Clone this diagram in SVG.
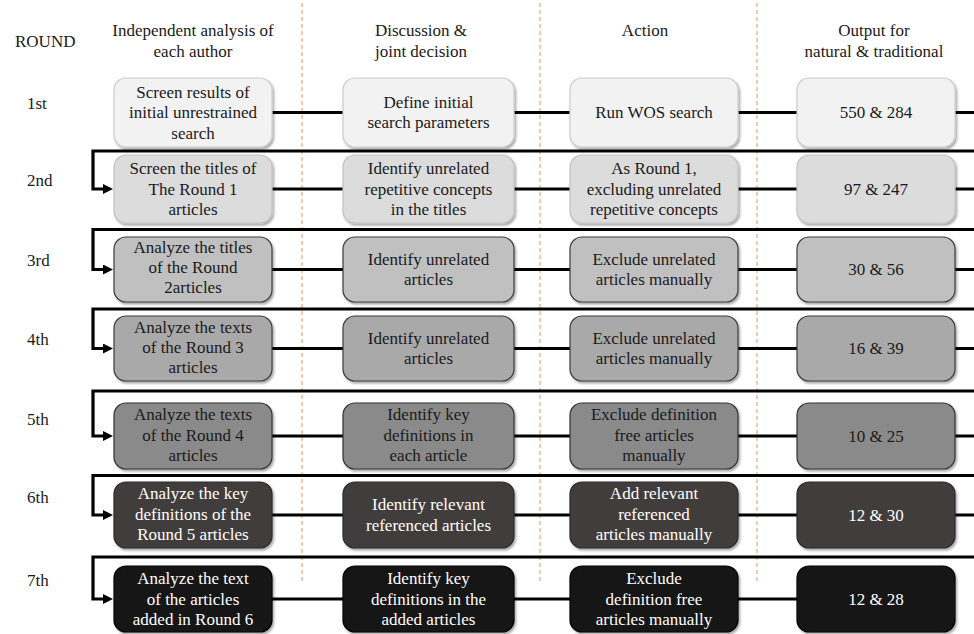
<svg xmlns="http://www.w3.org/2000/svg" width="974" height="634" viewBox="0 0 974 634" font-family="Liberation Serif, DejaVu Serif, serif" font-size="17">
<style>
text{font-family:'Liberation Serif','DejaVu Serif',serif;font-size:17px;fill:#1a1a1a}
.hd{text-anchor:middle}
.lb{text-anchor:start}
.bt{text-anchor:middle}
.w{fill:#ffffff}
.dash{stroke:#e8955f;stroke-width:1;stroke-dasharray:4 3;fill:none}
.con{stroke:#000;stroke-width:3.2;fill:none;stroke-linejoin:miter}
.box{stroke-width:1.2;filter:url(#sh)}
.r1{fill:#f2f2f2;stroke:#cccccc}
.r2{fill:#dcdcdc;stroke:#c2c2c2}
.r3{fill:#c0c0c0;stroke:#3d3d3d}
.r4{fill:#a9a9a9;stroke:#3d3d3d}
.r5{fill:#8a8a8a;stroke:#333333}
.r6{fill:#433e3e;stroke:#2a2a2a}
.r7{fill:#121212;stroke:#000000}
</style>
<defs>
<filter id="sh" x="-10%" y="-10%" width="125%" height="130%">
<feDropShadow dx="1.5" dy="2" stdDeviation="1.2" flood-color="#000" flood-opacity="0.35"/>
</filter>
<marker id="ah" markerUnits="userSpaceOnUse" markerWidth="11" markerHeight="11" refX="0" refY="5" orient="auto">
<path d="M0,0 L10,5 L0,10 z" fill="#000"/>
</marker>
</defs>
<rect width="974" height="634" fill="#ffffff"/>

<g id="headers">
<text class="lb" x="15" y="47">ROUND</text>
<text class="hd" x="193" y="36">Independent analysis of</text>
<text class="hd" x="193" y="57">each author</text>
<text class="hd" x="421" y="36">Discussion &amp;</text>
<text class="hd" x="421" y="57">joint decision</text>
<text class="hd" x="645" y="36">Action</text>
<text class="hd" x="874" y="36">Output for</text>
<text class="hd" x="874" y="57">natural &amp; traditional</text>
</g>

<g id="round-labels">
<text class="lb" x="27" y="109">1st</text>
<text class="lb" x="27" y="186">2nd</text>
<text class="lb" x="27" y="266">3rd</text>
<text class="lb" x="27" y="345">4th</text>
<text class="lb" x="27" y="425">5th</text>
<text class="lb" x="27" y="503">6th</text>
<text class="lb" x="27" y="586">7th</text>
</g>

<g id="dividers">
<line class="dash" x1="302" y1="3" x2="302" y2="583"/>
<line class="dash" x1="540" y1="3" x2="540" y2="583"/>
<line class="dash" x1="757" y1="3" x2="757" y2="583"/>
</g>

<g id="connectors">
<path class="con" d="M272,112.5 H343 M514,112.5 H570 M738,112.5 H797 M955,112.5 H974"/>
<path class="con" d="M272,189 H343 M514,189 H570 M738,189 H797 M955,189 H974"/>
<path class="con" d="M272,269.5 H343 M514,269.5 H570 M738,269.5 H797 M955,269.5 H974"/>
<path class="con" d="M272,348.5 H343 M514,348.5 H570 M738,348.5 H797 M955,348.5 H974"/>
<path class="con" d="M272,436 H343 M514,436 H570 M738,436 H797 M955,436 H974"/>
<path class="con" d="M272,515 H343 M514,515 H570 M738,515 H797 M955,515 H974"/>
<path class="con" d="M272,599 H343 M514,599 H570 M738,599 H797"/>
<path class="con" marker-end="url(#ah)" d="M974,151 H93 V189 H103"/>
<path class="con" marker-end="url(#ah)" d="M974,229.5 H93 V269.5 H103"/>
<path class="con" marker-end="url(#ah)" d="M974,309 H93 V348.5 H103"/>
<path class="con" marker-end="url(#ah)" d="M974,391 H93 V436 H103"/>
<path class="con" marker-end="url(#ah)" d="M974,475.5 H93 V515 H103"/>
<path class="con" marker-end="url(#ah)" d="M974,557 H93 V599 H103"/>
</g>

<g id="r1c1"><rect class="box r1" x="114" y="78" width="158" height="69" rx="12"/>
<text class="bt" x="193" y="97.5">Screen results of</text><text class="bt" x="193" y="118">initial unrestrained</text><text class="bt" x="193" y="138.5">search</text></g>
<g id="r1c2"><rect class="box r1" x="343" y="78" width="171" height="69" rx="12"/>
<text class="bt" x="428.5" y="107.75">Define initial</text><text class="bt" x="428.5" y="128.25">search parameters</text></g>
<g id="r1c3"><rect class="box r1" x="570" y="78" width="168" height="69" rx="12"/>
<text class="bt" x="654" y="118">Run WOS search</text></g>
<g id="r1c4"><rect class="box r1" x="797" y="78" width="158" height="69" rx="12"/>
<text class="bt" x="876" y="118">550 &amp; 284</text></g>

<g id="r2c1"><rect class="box r2" x="114" y="155" width="158" height="68" rx="12"/>
<text class="bt" x="193" y="174">Screen the titles of</text><text class="bt" x="193" y="194.5">The Round 1</text><text class="bt" x="193" y="215">articles</text></g>
<g id="r2c2"><rect class="box r2" x="343" y="155" width="171" height="68" rx="12"/>
<text class="bt" x="428.5" y="174">Identify unrelated</text><text class="bt" x="428.5" y="194.5">repetitive concepts</text><text class="bt" x="428.5" y="215">in the titles</text></g>
<g id="r2c3"><rect class="box r2" x="570" y="155" width="168" height="68" rx="12"/>
<text class="bt" x="654" y="174">As Round 1,</text><text class="bt" x="654" y="194.5">excluding unrelated</text><text class="bt" x="654" y="215">repetitive concepts</text></g>
<g id="r2c4"><rect class="box r2" x="797" y="155" width="158" height="68" rx="12"/>
<text class="bt" x="876" y="194.5">97 &amp; 247</text></g>

<g id="r3c1"><rect class="box r3" x="114" y="237" width="158" height="65" rx="12"/>
<text class="bt" x="193" y="253">Analyze the titles</text><text class="bt" x="193" y="273">of the Round</text><text class="bt" x="193" y="293">2articles</text></g>
<g id="r3c2"><rect class="box r3" x="343" y="237" width="171" height="65" rx="12"/>
<text class="bt" x="428.5" y="264.75">Identify unrelated</text><text class="bt" x="428.5" y="285.25">articles</text></g>
<g id="r3c3"><rect class="box r3" x="570" y="237" width="168" height="65" rx="12"/>
<text class="bt" x="654" y="264.75">Exclude unrelated</text><text class="bt" x="654" y="285.25">articles manually</text></g>
<g id="r3c4"><rect class="box r3" x="797" y="237" width="158" height="65" rx="12"/>
<text class="bt" x="876" y="275">30 &amp; 56</text></g>

<g id="r4c1"><rect class="box r4" x="114" y="316" width="158" height="65" rx="12"/>
<text class="bt" x="193" y="332.5">Analyze the texts</text><text class="bt" x="193" y="352.5">of the Round 3</text><text class="bt" x="193" y="372.5">articles</text></g>
<g id="r4c2"><rect class="box r4" x="343" y="316" width="171" height="65" rx="12"/>
<text class="bt" x="428.5" y="343.75">Identify unrelated</text><text class="bt" x="428.5" y="364.25">articles</text></g>
<g id="r4c3"><rect class="box r4" x="570" y="316" width="168" height="65" rx="12"/>
<text class="bt" x="654" y="343.75">Exclude unrelated</text><text class="bt" x="654" y="364.25">articles manually</text></g>
<g id="r4c4"><rect class="box r4" x="797" y="316" width="158" height="65" rx="12"/>
<text class="bt" x="876" y="354">16 &amp; 39</text></g>

<g id="r5c1"><rect class="box r5" x="114" y="403" width="158" height="66" rx="12"/>
<text class="bt" x="193" y="420">Analyze the texts</text><text class="bt" x="193" y="440.5">of the Round 4</text><text class="bt" x="193" y="461">articles</text></g>
<g id="r5c2"><rect class="box r5" x="343" y="403" width="171" height="66" rx="12"/>
<text class="bt" x="428.5" y="420">Identify key</text><text class="bt" x="428.5" y="440.5">definitions in</text><text class="bt" x="428.5" y="461">each article</text></g>
<g id="r5c3"><rect class="box r5" x="570" y="403" width="168" height="66" rx="12"/>
<text class="bt" x="654" y="420">Exclude definition</text><text class="bt" x="654" y="440.5">free articles</text><text class="bt" x="654" y="461">manually</text></g>
<g id="r5c4"><rect class="box r5" x="797" y="403" width="158" height="66" rx="12"/>
<text class="bt" x="876" y="441.5">10 &amp; 25</text></g>

<g id="r6c1"><rect class="box r6" x="114" y="482" width="158" height="66" rx="12"/>
<text class="bt w" x="193" y="499">Analyze the key</text><text class="bt w" x="193" y="519.5">definitions of the</text><text class="bt w" x="193" y="540">Round 5 articles</text></g>
<g id="r6c2"><rect class="box r6" x="343" y="482" width="171" height="66" rx="12"/>
<text class="bt w" x="428.5" y="510.25">Identify relevant</text><text class="bt w" x="428.5" y="530.75">referenced articles</text></g>
<g id="r6c3"><rect class="box r6" x="570" y="482" width="168" height="66" rx="12"/>
<text class="bt w" x="654" y="499">Add relevant</text><text class="bt w" x="654" y="519.5">referenced</text><text class="bt w" x="654" y="540">articles manually</text></g>
<g id="r6c4"><rect class="box r6" x="797" y="482" width="158" height="66" rx="12"/>
<text class="bt w" x="876" y="520.5">12 &amp; 30</text></g>

<g id="r7c1"><rect class="box r7" x="114" y="566" width="158" height="66" rx="12"/>
<text class="bt w" x="193" y="584">Analyze the text</text><text class="bt w" x="193" y="604.5">of the articles</text><text class="bt w" x="193" y="625">added in Round 6</text></g>
<g id="r7c2"><rect class="box r7" x="343" y="566" width="171" height="66" rx="12"/>
<text class="bt w" x="428.5" y="584">Identify key</text><text class="bt w" x="428.5" y="604.5">definitions in the</text><text class="bt w" x="428.5" y="625">added articles</text></g>
<g id="r7c3"><rect class="box r7" x="570" y="566" width="168" height="66" rx="12"/>
<text class="bt w" x="654" y="584">Exclude</text><text class="bt w" x="654" y="604.5">definition free</text><text class="bt w" x="654" y="625">articles manually</text></g>
<g id="r7c4"><rect class="box r7" x="797" y="566" width="158" height="66" rx="12"/>
<text class="bt w" x="876" y="604.5">12 &amp; 28</text></g>
</svg>
